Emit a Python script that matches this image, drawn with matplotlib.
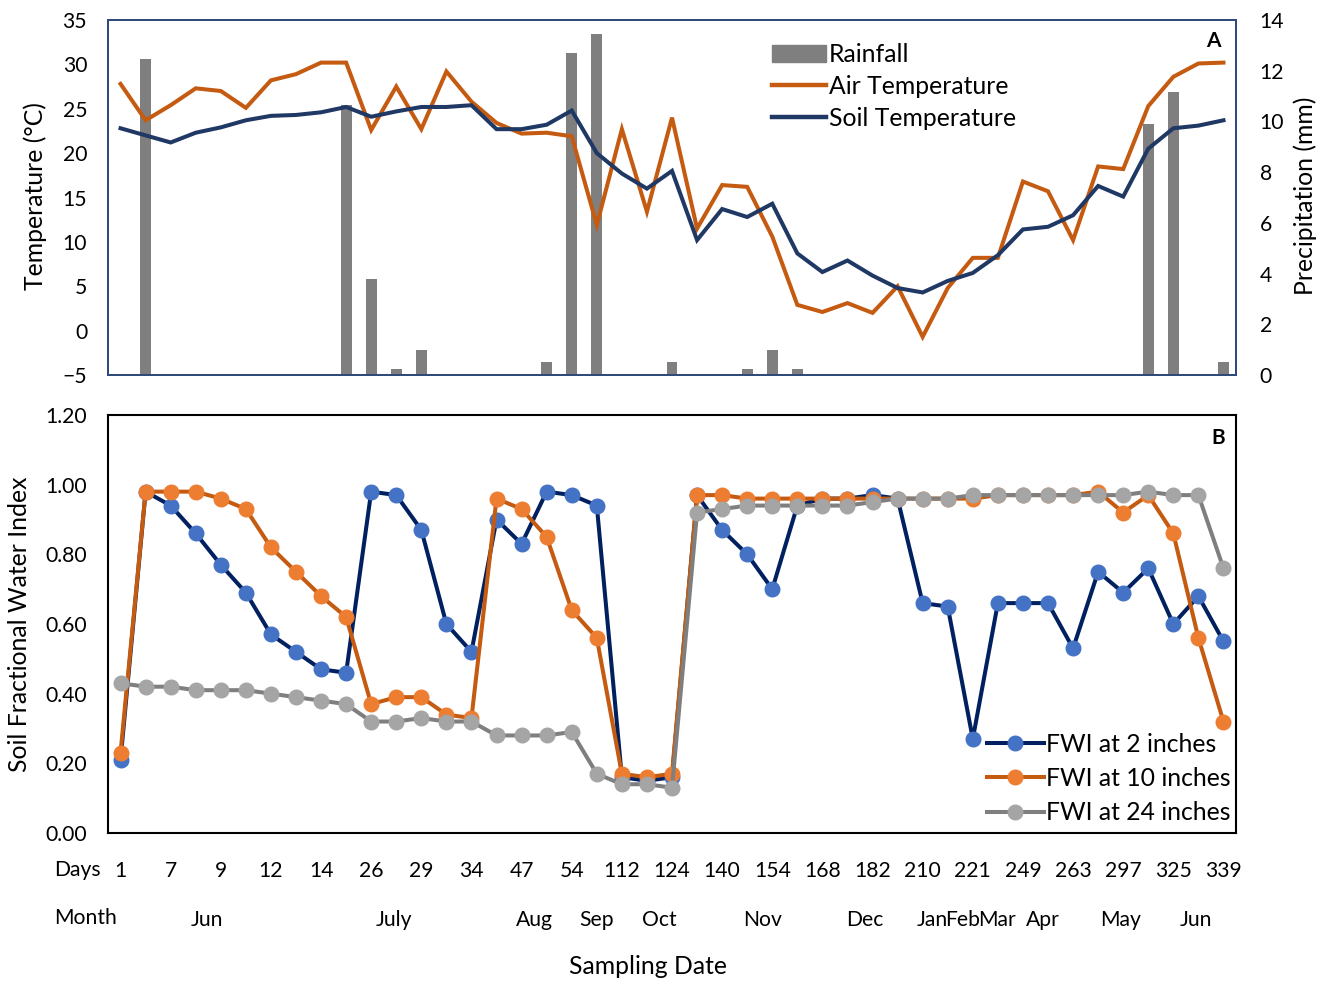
import numpy as np
import matplotlib
matplotlib.use("Agg")
import matplotlib.pyplot as plt
import matplotlib.transforms as mtransforms
from matplotlib.patches import Patch
from matplotlib.lines import Line2D

plt.rcParams['font.family'] = ['Lato', 'DejaVu Sans']

# sampling days (only every second one is labelled on the axis)
day_labels = ['1', '7', '9', '12', '14', '26', '29', '34', '47', '54', '112', '124',
              '140', '154', '168', '182', '210', '221', '249', '263', '297', '325', '339']

months = ['Jun', 'July', 'Aug', 'Sep', 'Oct', 'Nov', 'Dec', 'Jan', 'Feb', 'Mar', 'Apr', 'May', 'Jun']
month_pos = [3.45, 10.9, 16.5, 19.0, 21.5, 25.6, 29.7, 32.4, 33.6, 34.95, 36.8, 39.9, 42.9]

air_temp = [27.8, 23.7, 25.4, 27.3, 27.0, 25.1, 28.2, 28.9, 30.2, 30.2,
            22.6, 27.5, 22.7, 29.2, 25.8, 23.4, 22.2, 22.3, 21.9, 11.9,
            22.7, 13.4, 24.0, 11.5, 16.4, 16.2, 10.6, 2.9, 2.1, 3.1,
            2.0, 5.0, -0.7, 4.8, 8.2, 8.2, 16.8, 15.7, 10.2, 18.5,
            18.2, 25.3, 28.6, 30.1, 30.2]
soil_temp = [22.8, 22.0, 21.2, 22.3, 22.9, 23.7, 24.2, 24.3, 24.6, 25.2,
             24.1, 24.7, 25.2, 25.2, 25.4, 22.7, 22.7, 23.2, 24.8, 20.0,
             17.7, 16.0, 18.0, 10.2, 13.7, 12.8, 14.3, 8.7, 6.6, 7.9,
             6.2, 4.8, 4.3, 5.6, 6.5, 8.5, 11.4, 11.7, 13.0, 16.3,
             15.1, 20.5, 22.8, 23.1, 23.7]
rainfall = [0, 12.45, 0, 0, 0, 0, 0, 0, 0, 10.65,
            3.8, 0.25, 1.0, 0, 0, 0, 0, 0.5, 12.7, 13.45,
            0, 0, 0.5, 0, 0, 0.25, 1.0, 0.25, 0, 0,
            0, 0, 0, 0, 0, 0, 0, 0, 0, 0,
            0, 9.9, 11.15, 0, 0.5]

fwi_2 = [0.21, 0.98, 0.94, 0.86, 0.77, 0.69, 0.57, 0.52, 0.47, 0.46,
         0.98, 0.97, 0.87, 0.60, 0.52, 0.90, 0.83, 0.98, 0.97, 0.94,
         0.16, 0.15, 0.16, 0.97, 0.87, 0.80, 0.70, 0.94, 0.96, 0.96,
         0.97, 0.96, 0.66, 0.65, 0.27, 0.66, 0.66, 0.66, 0.53, 0.75,
         0.69, 0.76, 0.60, 0.68, 0.55]
fwi_10 = [0.23, 0.98, 0.98, 0.98, 0.96, 0.93, 0.82, 0.75, 0.68, 0.62,
          0.37, 0.39, 0.39, 0.34, 0.33, 0.96, 0.93, 0.85, 0.64, 0.56,
          0.17, 0.16, 0.17, 0.97, 0.97, 0.96, 0.96, 0.96, 0.96, 0.96,
          0.96, 0.96, 0.96, 0.96, 0.96, 0.97, 0.97, 0.97, 0.97, 0.98,
          0.92, 0.97, 0.86, 0.56, 0.32]
fwi_24 = [0.43, 0.42, 0.42, 0.41, 0.41, 0.41, 0.40, 0.39, 0.38, 0.37,
          0.32, 0.32, 0.33, 0.32, 0.32, 0.28, 0.28, 0.28, 0.29, 0.17,
          0.14, 0.14, 0.13, 0.92, 0.93, 0.94, 0.94, 0.94, 0.94, 0.94,
          0.95, 0.96, 0.96, 0.96, 0.97, 0.97, 0.97, 0.97, 0.97, 0.97,
          0.97, 0.98, 0.97, 0.97, 0.76]

x = np.arange(len(air_temp))
W, H = 1334, 983
fig = plt.figure(figsize=(W / 100, H / 100), dpi=100)

def fx(px):
    return px / W

def fy(py):
    return 1 - py / H

tick_fs = 15.2
title_fs = 17.8
navy_edge = '#2F4A7A'

# ---- panel A: temperature + rainfall
ax1 = fig.add_axes([fx(108), fy(375), fx(1236) - fx(108), fy(20) - fy(375)])
ax2 = ax1.twinx()
ax1.set_zorder(ax2.get_zorder() + 1)
ax1.patch.set_visible(False)

ax2.bar(x, rainfall, width=0.43, color='#7F7F7F', label='Rainfall')
ax1.plot(x, air_temp, color='#C55A11', lw=2.9, label='Air Temperature', solid_joinstyle='miter')
ax1.plot(x, soil_temp, color='#1F3864', lw=2.9, label='Soil Temperature', solid_joinstyle='miter')

ax1.set_xlim(-0.5, len(x) - 0.5)
ax1.set_ylim(-5, 35)
ax1.set_yticks(np.arange(-5, 36, 5))
ax2.set_ylim(0, 14)
ax2.set_yticks(np.arange(0, 15, 2))
ax1.set_xticks([])
ax1.tick_params(axis='y', length=0, pad=15, labelsize=tick_fs)
ax2.tick_params(axis='y', length=0, pad=17, labelsize=tick_fs)
for a in (ax1, ax2):
    for s in a.spines.values():
        s.set_color(navy_edge)
        s.set_linewidth(1.3)

handles = [Patch(color='#7F7F7F'),
           Line2D([], [], color='#C55A11', lw=3.2),
           Line2D([], [], color='#1F3864', lw=3.2)]
fig.legend(handles, ['Rainfall', 'Air Temperature', 'Soil Temperature'],
           loc='upper left', bbox_to_anchor=(fx(772), fy(43)), frameon=False,
           fontsize=title_fs, handlelength=2.2, handletextpad=0.1,
           labelspacing=0.36, borderpad=0, borderaxespad=0)

fig.text(fx(1213), fy(41), 'A', fontsize=15, fontweight='bold', ha='center', va='center')
fig.text(fx(35), fy(196), 'Temperature (°C)', rotation=90, fontsize=title_fs, ha='center', va='center')
fig.text(fx(1305), fy(196), 'Precipitation (mm)', rotation=90, fontsize=title_fs, ha='center', va='center')

# ---- panel B: fractional water index
ax3 = fig.add_axes([fx(108), fy(833), fx(1236) - fx(108), fy(415) - fy(833)])
ax3.plot(x, fwi_2, color='#002060', lw=2.9, marker='o', ms=10.5,
         mfc='#4472C4', mec='#4472C4', label='FWI at 2 inches')
ax3.plot(x, fwi_10, color='#C55A11', lw=2.9, marker='o', ms=10.5,
         mfc='#ED7D31', mec='#ED7D31', label='FWI at 10 inches')
ax3.plot(x, fwi_24, color='#7F7F7F', lw=2.9, marker='o', ms=10.5,
         mfc='#A5A5A5', mec='#A5A5A5', label='FWI at 24 inches')

ax3.set_xlim(-0.5, len(x) - 0.5)
ax3.set_ylim(0, 1.2)
ax3.set_yticks(np.arange(0, 1.21, 0.2))
ax3.set_yticklabels(['%.2f' % v for v in np.arange(0, 1.21, 0.2)])
ax3.set_xticks(x[::2])
ax3.set_xticklabels(day_labels)
ax3.tick_params(axis='y', length=0, pad=15, labelsize=tick_fs)
ax3.tick_params(axis='x', length=0, pad=20, labelsize=tick_fs)
for s in ax3.spines.values():
    s.set_color('black')
    s.set_linewidth(1.5)

ax3.legend(loc='upper left', bbox_to_anchor=(fx(987), fy(733)), bbox_transform=fig.transFigure,
           frameon=False, fontsize=title_fs, handlelength=2.3, handletextpad=0.1,
           labelspacing=0.45, borderpad=0, borderaxespad=0)

fig.text(fx(1218), fy(438), 'B', fontsize=15, fontweight='bold', ha='center', va='center')
fig.text(fx(20), fy(624), 'Soil Fractional Water Index', rotation=90, fontsize=title_fs,
         ha='center', va='center')

# second row of category labels: months
fig.text(fx(77), fy(870), 'Days', fontsize=tick_fs, ha='center', va='center')
fig.text(fx(86), fy(918), 'Month', fontsize=tick_fs, ha='center', va='center')
month_trans = mtransforms.blended_transform_factory(ax3.transData, fig.transFigure)
for m, p in zip(months, month_pos):
    ax3.text(p, fy(920), m, transform=month_trans, fontsize=tick_fs,
             ha='center', va='center', clip_on=False)
fig.text(fx(648), fy(967), 'Sampling Date', fontsize=title_fs, ha='center', va='center')

fig.savefig('out.png', dpi=100)
